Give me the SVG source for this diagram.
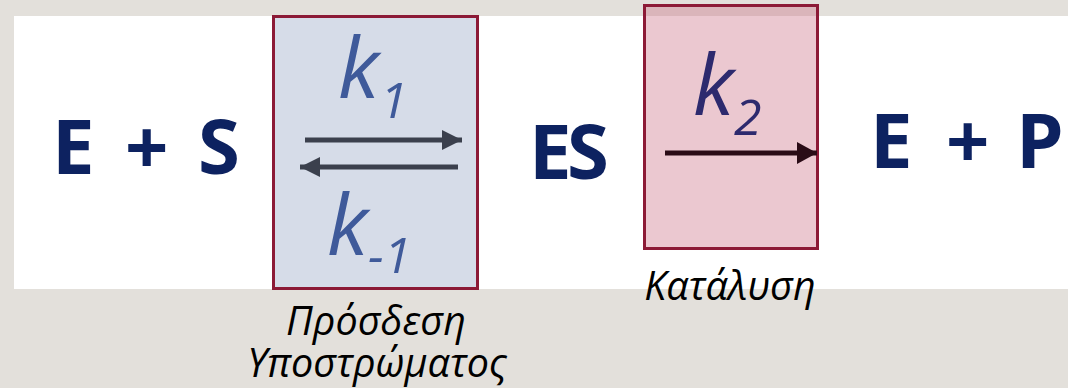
<svg xmlns="http://www.w3.org/2000/svg" width="1068" height="388" viewBox="0 0 1068 388">
<style>
.big{font-family:"Open Sans","Liberation Sans",sans-serif;font-weight:bold;font-size:76px;fill:#0d2260}
.k{font-family:"Open Sans","Liberation Sans",sans-serif;font-style:italic;font-size:84px}
.sub{font-family:"Open Sans","Liberation Sans",sans-serif;font-style:italic;font-size:50px}
.lbl{font-family:"Open Sans","Liberation Sans",sans-serif;font-style:italic;font-size:39.5px;fill:#000;text-anchor:middle}
.box{stroke:#8c1a36;stroke-width:3}
</style>
<defs>
<marker id="ahGrey" markerUnits="userSpaceOnUse" markerWidth="22" markerHeight="22" refX="20" refY="10" orient="auto"><path d="M0,0 L20,10 L0,20 Z" fill="#3b404d"/></marker>
<marker id="ahDark" markerUnits="userSpaceOnUse" markerWidth="22" markerHeight="24" refX="20" refY="11" orient="auto"><path d="M0,0 L20,11 L0,22 Z" fill="#2a0c16"/></marker>
</defs>
<rect x="0" y="0" width="1068" height="388" fill="#e3e0db"/>
<rect x="14" y="16" width="1054" height="273" fill="#ffffff"/>
<g id="reactants"><text class="big" x="52 125 198" y="174">E+S</text></g>
<g id="binding">
<rect class="box" x="273.5" y="16.5" width="204" height="272" fill="#d6dce8"/>
<text class="k" x="338" y="98" fill="#3f5a9a">k</text>
<text class="sub" x="380" y="118" fill="#3f5a9a">1</text>
<text class="k" x="327" y="255" fill="#3f5a9a">k</text>
<text class="sub" x="368" y="273" fill="#3f5a9a">-1</text>
</g>
<g id="complex"><text class="big" x="529 567" y="179">ES</text></g>
<g id="catalysis">
<rect class="box" x="644.5" y="5.5" width="173" height="243" fill="rgb(205,118,137)" fill-opacity="0.4"/>
<text class="k" x="693" y="115" fill="#2d2a6e">k</text>
<text class="sub" x="734" y="135" fill="#2d2a6e">2</text>
</g>
<g id="products"><text class="big" x="870 946 1016" y="168">E+P</text></g>
<g id="connectors">
<line x1="305" y1="140" x2="462" y2="140" stroke="#3b404d" stroke-width="5" marker-end="url(#ahGrey)"/>
<line x1="458" y1="167" x2="300" y2="167" stroke="#3b404d" stroke-width="5" marker-end="url(#ahGrey)"/>
<line x1="665" y1="153" x2="817" y2="153" stroke="#2a0c16" stroke-width="5" marker-end="url(#ahDark)"/>
</g>
<g id="labels">
<text class="lbl"><tspan x="376" y="335">Πρόσδεση</tspan><tspan x="377" y="377">Υποστρώματος</tspan></text>
<text class="lbl" x="730" y="300">Κατάλυση</text>
</g>
</svg>
